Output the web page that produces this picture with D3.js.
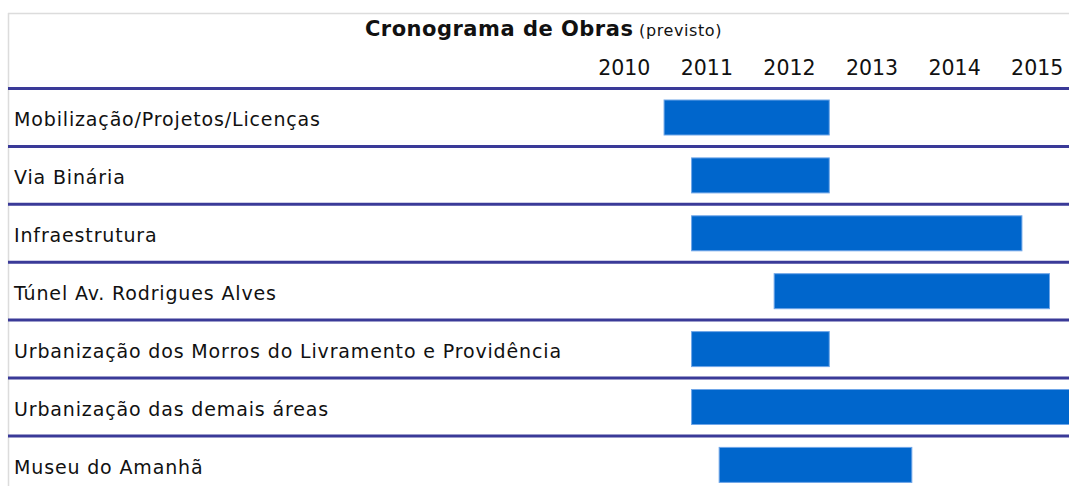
<!DOCTYPE html>
<html>
<head>
<meta charset="utf-8">
<script src="https://cdn.jsdelivr.net/npm/d3@7"></script>
<style>
  body { margin: 0; background: #fff; }
  text { font-family: "DejaVu Sans", Verdana, sans-serif; fill: #111; }
</style>
</head>
<body>
<svg width="1069" height="486"></svg>
<script>
// tasks, planned start / end (decimal years)
const tasks = [
  "Mobilização/Projetos/Licenças",
  "Via Binária",
  "Infraestrutura",
  "Túnel Av. Rodrigues Alves",
  "Urbanização dos Morros do Livramento e Providência",
  "Urbanização das demais áreas",
  "Museu do Amanhã"
];
const starts = [2011.0, 2011.333, 2011.333, 2012.333, 2011.333, 2011.333, 2011.667];
const ends   = [2013.0, 2013.0, 2015.333, 2015.667, 2013.0, 2016.2, 2014.0];
const years  = [2010, 2011, 2012, 2013, 2014, 2015];

const rows = tasks.map((t, i) => ({ task: t, start: starts[i], end: ends[i] }));

const svg = d3.select("svg");

const x = d3.scaleLinear().domain([2010, 2016]).range([581.5, 1077]);
const y = d3.scaleBand().domain(tasks).range([88.5, 88.5 + 57.9 * tasks.length]).paddingInner(0);

// frame
svg.append("line").attr("x1", 8).attr("x2", 1069).attr("y1", 13.5).attr("y2", 13.5)
  .attr("stroke", "#dcdcdc").attr("stroke-width", 1.5);
svg.append("line").attr("x1", 8.5).attr("x2", 8.5).attr("y1", 13).attr("y2", 486)
  .attr("stroke", "#dcdcdc").attr("stroke-width", 1.5);

// title
const title = svg.append("text").attr("x", 543.5).attr("y", 36).attr("text-anchor", "middle");
title.append("tspan").attr("font-weight", "bold").attr("font-size", 21)
  .attr("letter-spacing", 0.5).text("Cronograma de Obras");
title.append("tspan").attr("font-size", 16).attr("letter-spacing", 0.6).text(" (previsto)");

// year header
svg.append("g").selectAll("text")
  .data(years)
  .join("text")
  .attr("x", d => x(d + 0.5) + 1.5)
  .attr("y", 75)
  .attr("text-anchor", "middle")
  .attr("font-size", 20.5)
  .text(d => d);

// row separators
svg.append("g").selectAll("line")
  .data(tasks)
  .join("line")
  .attr("x1", 8).attr("x2", 1069)
  .attr("y1", d => y(d)).attr("y2", d => y(d))
  .attr("stroke", "#3a3a98").attr("stroke-width", 3);

// task labels
svg.append("g").selectAll("text")
  .data(rows)
  .join("text")
  .attr("x", 14)
  .attr("y", d => y(d.task) + y.bandwidth() / 2 + 9)
  .attr("font-size", 19)
  .attr("letter-spacing", 0.85)
  .text(d => d.task);

// bars
svg.append("g").selectAll("rect")
  .data(rows)
  .join("rect")
  .attr("x", d => x(d.start))
  .attr("y", d => y(d.task) + 11.5)
  .attr("width", d => x(d.end) - x(d.start))
  .attr("height", 35)
  .attr("fill", "#0066cc")
  .attr("stroke", "#6fa6e8")
  .attr("stroke-width", 1);
</script>
</body>
</html>
